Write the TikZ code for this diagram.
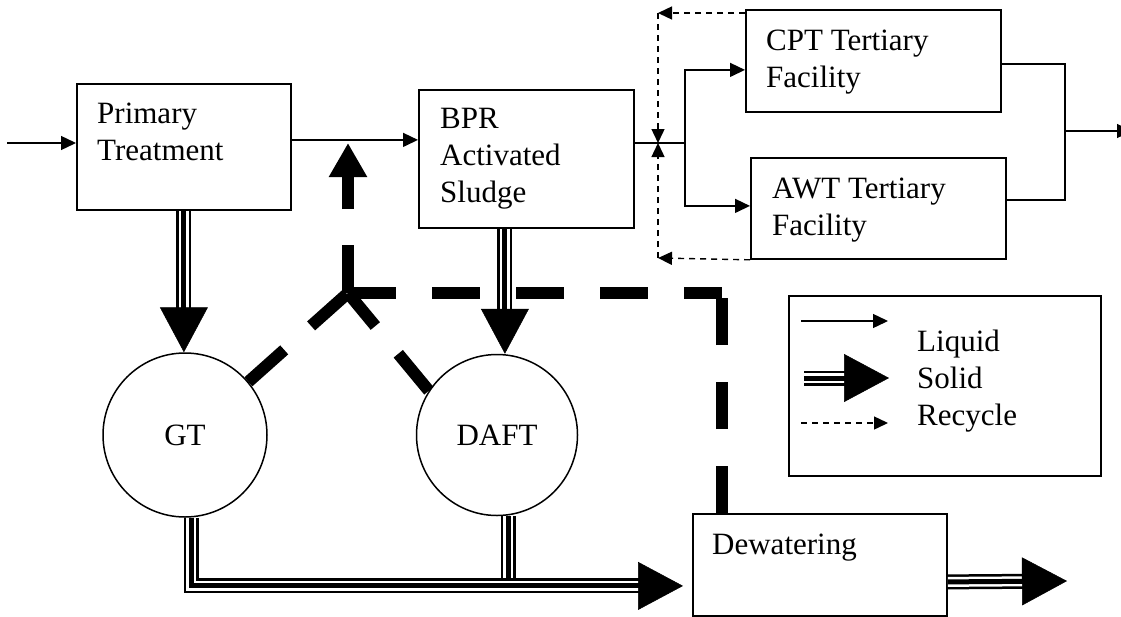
\documentclass[tikz,border=0pt]{standalone}
\usepackage{fontspec}
\setmainfont{Liberation Serif}
\usetikzlibrary{arrows.meta}

\tikzset{
  box/.style={draw, line width=1.8pt, rectangle, anchor=north west, inner sep=0pt},
  tank/.style={draw, line width=1.5pt, circle, inner sep=0pt},
  txt/.style={anchor=north west, inner sep=0pt, align=left},
  liqline/.style={line width=1.4pt},
  liquid/.style={liqline, -{Triangle[length=15pt,width=14pt]}},
  rec/.style={line width=1.4pt, dash pattern=on 6pt off 5pt, -{Triangle[length=14pt,width=13pt]}},
  bigrec/.style={line width=12pt, dash pattern=on 48pt off 36pt},
  % three-strand pipe for solids: black core, white gap, black centre line
  solidflow/.style={draw, line width=15pt, shorten >=#1,
    postaction={draw=white, line width=10pt, shorten >=#1},
    postaction={draw=black, line width=5pt, shorten >=#1}},
  solidflow/.default=0pt,
  solidarrow/.style={solidflow=44pt,
    postaction={draw=black, line width=0.5pt, shorten >=0pt, -{Triangle[length=45pt,width=48pt]}}},
}

\begin{document}
\begin{tikzpicture}[x=1pt, y=-1pt, font=\fontsize{31}{37}\selectfont]
\useasboundingbox (0,0) rectangle (1121,616);
\fill[white] (0,0) rectangle (1121,616);
\clip (0,0) rectangle (1121,616);

% process units
\node[box, minimum width=214pt, minimum height=126pt] (prim) at (76,83) {};
\node[box, minimum width=215pt, minimum height=138pt] (bpr) at (418,89) {};
\node[box, minimum width=255pt, minimum height=102pt] (cpt) at (745,9) {};
\node[box, minimum width=255pt, minimum height=101pt] (awt) at (750,157) {};
\node[box, minimum width=254pt, minimum height=102pt] (dew) at (692,513) {};
\node[box, minimum width=312pt, minimum height=180pt] (leg) at (788,295) {};
\node[tank, minimum size=164pt] (GT) at (185,435) {GT};
\node[tank, minimum size=161pt] (DAFT) at (497,435) {DAFT};

% unit labels
\node[txt] (primtxt) at (97,102.5) {Primary\\Treatment};
\node[txt] (bprtxt) at (440,108) {BPR\\Activated\\Sludge};
\node[txt] (cpttxt) at (766,29.5) {CPT Tertiary\\Facility};
\node[txt] (awttxt) at (772,177.5) {AWT Tertiary\\Facility};
\node[txt] (dewtxt) at (712,533.5) {Dewatering};
\node[txt] (legtxt) at (917,329.5) {Liquid\\Solid\\Recycle};

% reference points
\coordinate (src) at (7,143);
\coordinate (split) at (685,143);
\coordinate (merge) at (1065,131);
\coordinate (out) at (1132,131);
\coordinate (rtop) at (658,13);
\coordinate (rbot) at (658,258);
\coordinate (rmid) at (658,143);
\coordinate (J) at (348,293);
\coordinate (ret) at (348,143);
\coordinate (K) at (722,293);
\coordinate (sjoin) at (508,585);
\coordinate (sout) at (1067,581);
\coordinate (l1a) at (801,321);
\coordinate (l1b) at (888,321);
\coordinate (l2a) at (804,378);
\coordinate (l2b) at (889,378);
\coordinate (l3a) at (801,423);
\coordinate (l3b) at (888,423);

% liquid train
\draw[liquid] (src) -- (src -| prim.west);
\draw[liquid] ([yshift=7pt]prim.east) -- ([yshift=7pt]prim.east -| bpr.west);
\draw[liqline] (split -| bpr.east) -- (split);
\draw[liquid] (split) |- ([yshift=-9pt]cpt.west);
\draw[liquid] (split) |- ([yshift=2.5pt]awt.west);
\draw[liqline] ([yshift=-3pt]cpt.east) -| (merge);
\draw[liqline] ([yshift=8.5pt]awt.east) -| (merge);
\draw[liquid] (merge) -- (out);

% tertiary recycle
\draw[rec] ([yshift=-4pt]cpt.north west) -- (rtop);
\draw[rec] (rtop) -- (rmid);
\draw[rec] (awt.south west) -- (rbot);
\draw[rec] (rbot) -- (rmid);

% solids train
\draw[solidarrow] (prim.south) -- (prim.south |- GT.north);
\draw[solidarrow] ([xshift=-21.5pt]bpr.south) -- ([xshift=-21.5pt]bpr.south |- DAFT.north);
\draw[solidflow] ([xshift=11pt]DAFT.south) -- (sjoin);
\draw[solidarrow] ([xshift=6pt]GT.south) |- ([xshift=-9pt,yshift=-21pt]dew.west);
\draw[solidarrow] ([yshift=-17pt]dew.east) -- (sout);

% sidestream recycle
\draw[bigrec] (GT.40) -- (J);
\draw[bigrec] (DAFT.147) -- (J);
\draw[bigrec, -{Triangle[length=34pt,width=36pt]}] (J) -- (ret);
\draw[bigrec] (J) -- (K);
\draw[bigrec, dash pattern=on 47pt off 37pt] (K |- dew.north) -- (K);

% legend symbols
\draw[liquid] (l1a) -- (l1b);
\draw[solidarrow] (l2a) -- (l2b);
\draw[rec] (l3a) -- (l3b);
\end{tikzpicture}
\end{document}
